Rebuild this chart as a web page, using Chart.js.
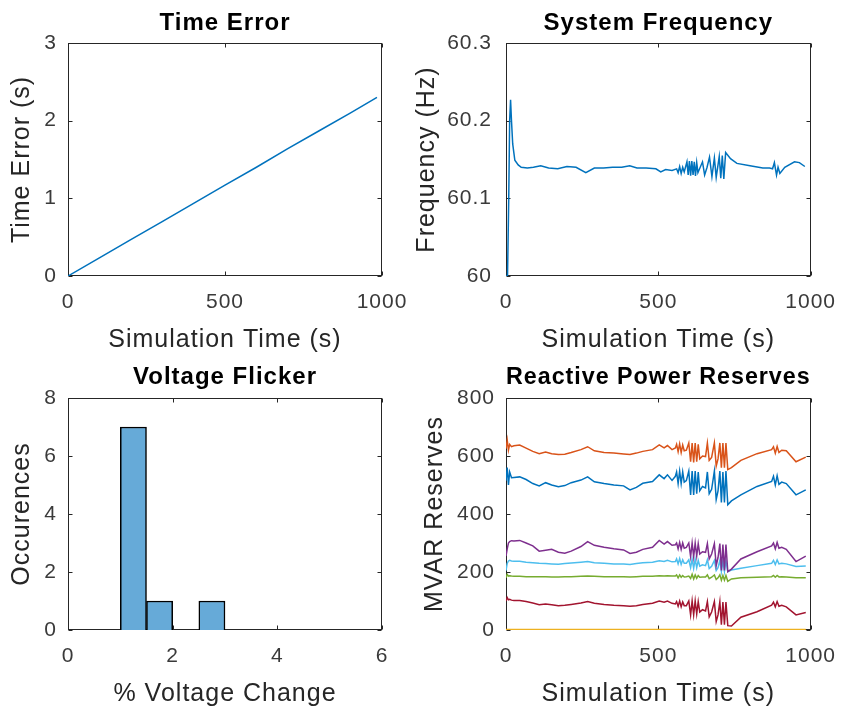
<!DOCTYPE html>
<html><head><meta charset="utf-8">
<script src="https://cdn.jsdelivr.net/npm/chart.js@4/dist/chart.umd.min.js"></script>
<style>
html,body{margin:0;padding:0;background:#fff;}
body{width:848px;height:709px;position:relative;overflow:hidden;}
.c{position:absolute;}
</style></head><body>
<div class="c" style="left:0px;top:0px;width:424px;height:354px"><canvas id="c1"></canvas></div>
<div class="c" style="left:410px;top:0px;width:438px;height:354px"><canvas id="c2"></canvas></div>
<div class="c" style="left:0px;top:354px;width:424px;height:355px"><canvas id="c3"></canvas></div>
<div class="c" style="left:410px;top:354px;width:438px;height:355px"><canvas id="c4"></canvas></div>
<script>
// ---------- DATA ----------
const timeErrT = [0, 100, 200, 300, 400, 500, 600, 700, 800, 900, 984];
const timeErrV = [0, 0.234, 0.468, 0.70, 0.935, 1.17, 1.40, 1.64, 1.87, 2.10, 2.30];

const freqT = [0,5,9,12,15,18,22,29,40,50,
  70,90,114,140,170,200,230,262,290,320,
  350,380,406,430,460,492,508,524,545,560,
  565,570,575,580,585,594,598,602,606,610,
  614,618,622,626,630,645,652,660,668,676,
  684,690,700,705,710,715,721,737,758,801,
  843,865,875,881,888,893,899,915,947,963,
  981];
const freqV = [60.0,60.0,60.1,60.2,60.227,60.2,60.17,60.149,60.143,60.140,
  60.139,60.140,60.142,60.139,60.138,60.141,60.140,60.133,60.139,60.139,
  60.140,60.140,60.142,60.139,60.139,60.138,60.134,60.137,60.136,60.138,
  60.133,60.141,60.132,60.140,60.134,60.147,60.130,60.148,60.129,60.148,
  60.130,60.147,60.129,60.146,60.133,60.147,60.130,60.140,60.153,60.128,
  60.152,60.127,60.154,60.126,60.155,60.125,60.159,60.151,60.145,60.142,
  60.139,60.139,60.138,60.146,60.130,60.140,60.132,60.140,60.147,60.146,
  60.141];

const binEdges = [1, 1.5, 2, 2.5, 3];
const binCounts = [7, 1, 0, 1];

const resT = [0,4,8,12,18,26,45,66,88,109,
  130,150,172,193,214,246,268,290,322,354,
  386,407,428,449,481,503,519,530,545,556,
  560,565,570,575,580,585,592,600,606,611,
  616,621,626,631,636,645,655,661,667,675,
  684,690,696,702,707,712,717,722,728,740,
  771,824,872,878,884,890,896,905,920,952,
  984];
const resBlue = [515,560,500,545,525,526,528,519,505,497,
  508,500,494,498,508,517,528,511,505,500,
  497,483,492,506,512,535,522,535,516,530,
  545,505,548,505,545,510,515,548,466,548,
  466,548,470,545,480,495,490,545,470,485,
  548,450,480,548,440,545,440,548,432,445,
  466,495,512,530,500,532,502,510,505,466,
  483];
const resOrange = [625,655,620,640,632,635,638,627,616,608,
  614,608,605,606,612,622,632,618,612,610,
  607,605,610,616,622,638,628,636,622,628,
  640,615,642,612,638,618,620,645,580,645,
  578,645,580,640,590,600,598,645,585,595,
  645,565,590,645,560,645,560,645,553,560,
  585,608,622,632,610,633,612,620,618,580,
  596];
const yellowT = [0, 500, 984];
const resYellow = [2, 2, 2];
const resPurple = [255,280,300,305,308,307,309,300,290,272,
  275,278,268,265,272,288,305,292,285,280,
  276,264,268,278,285,309,296,305,292,294,
  300,280,302,278,300,282,285,300,253,300,
  253,300,255,298,262,270,268,298,245,262,
  298,222,250,298,205,295,205,295,201,210,
  245,270,290,300,280,302,282,285,278,236,
  255];
const resGreen = [180,192,186,187,186,185,185,184,184,184,
  184,183,183,184,184,185,186,185,184,184,
  184,183,184,185,185,187,186,187,186,186,
  190,180,190,182,188,183,184,186,178,192,
  176,190,178,188,182,183,183,190,177,182,
  190,174,180,190,172,188,172,188,168,176,
  180,182,184,188,182,188,183,184,183,180,
  180];
const resCyan = [205,230,238,240,238,237,237,234,232,230,
  229,228,227,229,231,234,236,232,230,228,
  228,226,229,232,234,239,236,240,235,236,
  245,228,246,226,242,230,230,242,215,244,
  213,244,215,240,220,225,222,242,212,220,
  240,205,215,240,202,238,202,238,201,207,
  213,222,230,240,226,242,228,230,228,219,
  221];
const resRed = [100,112,104,106,103,102,102,98,93,87,
  90,87,84,85,88,93,98,92,88,85,
  84,82,84,88,92,100,96,100,92,90,
  98,82,100,80,97,84,84,100,52,100,
  52,100,55,98,62,70,66,98,45,62,
  98,29,52,98,18,96,18,96,15,14,
  44,63,86,96,80,98,82,85,80,52,
  60];

// ---------- STYLE / LAYOUT ----------
const FONT = '"Liberation Sans", Arial, Helvetica, sans-serif';
const TICK_COLOR = '#3a3a3a';
const LABEL_COLOR = '#262626';

const boxPlugin = {
  id: 'matlabBox',
  beforeDraw(chart) { chart.ctx.letterSpacing = '1px'; },
  beforeDatasetsDraw(chart) {
    const {ctx, chartArea: a, scales} = chart;
    ctx.save();
    ctx.strokeStyle = '#262626';
    ctx.lineWidth = 1;
    const l = Math.round(a.left) + 0.5, r = Math.round(a.right) - 0.5;
    const t = Math.round(a.top) + 0.5, b = Math.round(a.bottom) - 0.5;
    ctx.strokeRect(l, t, r - l, b - t);
    const tl = 4;
    ctx.beginPath();
    scales.x.ticks.forEach(tk => {
      const px = Math.round(scales.x.getPixelForValue(tk.value)) + 0.5;
      ctx.moveTo(px, b); ctx.lineTo(px, b - tl);
      ctx.moveTo(px, t); ctx.lineTo(px, t + tl);
    });
    scales.y.ticks.forEach(tk => {
      const py = Math.round(scales.y.getPixelForValue(tk.value)) + 0.5;
      ctx.moveTo(l, py); ctx.lineTo(l + tl, py);
      ctx.moveTo(r, py); ctx.lineTo(r - tl, py);
    });
    ctx.stroke();
    ctx.restore();
  }
};

function pts(xs, ys) { return xs.map((x, i) => ({x: x, y: ys[i]})); }
function lineDs(xs, ys, color) {
  return {data: pts(xs, ys), borderColor: color, borderWidth: 1.5, pointRadius: 0, fill: false, tension: 0};
}

function makeChart(id, type, g, datasets, t) {
  return new Chart(document.getElementById(id), {
    type: type,
    data: {datasets: datasets},
    options: {
      responsive: true, maintainAspectRatio: false, animation: false, devicePixelRatio: 1,
      layout: {padding: {left: 0, top: 0, bottom: 0, right: g.cx + g.cw - g.R}},
      plugins: {
        legend: {display: false}, tooltip: {enabled: false},
        title: {display: true, text: t.title, fullSize: false, color: '#000',
          font: {family: FONT, size: 24, weight: 'bold', lineHeight: 1},
          padding: {top: g.titlePad, bottom: (g.T - g.cy) - 24 - g.titlePad}}
      },
      scales: {
        x: {type: 'linear', min: t.xmin, max: t.xmax, offset: false,
          ticks: {stepSize: t.xstep, color: TICK_COLOR, autoSkip: false, maxRotation: 0,
            font: {family: FONT, size: 21, lineHeight: 1.2}, padding: 14,
            callback: v => String(v)},
          grid: {display: false, drawTicks: false}, border: {display: false},
          title: {display: true, text: t.xlabel, color: LABEL_COLOR,
            font: {family: FONT, size: 25, lineHeight: 1}, padding: {top: 0, bottom: g.xtPad}},
          afterFit(s) { s.height = g.cy + g.ch - g.B; }
        },
        y: {type: 'linear', min: t.ymin, max: t.ymax,
          ticks: {stepSize: t.ystep, color: TICK_COLOR, autoSkip: false,
            font: {family: FONT, size: 21, lineHeight: 1.2}, padding: g.ytickPad,
            callback: t.yfmt || (v => String(v))},
          grid: {display: false, drawTicks: false}, border: {display: false},
          title: {display: true, text: t.ylabel, color: LABEL_COLOR,
            font: {family: FONT, size: 25, lineHeight: 1}, padding: {top: g.ytPad, bottom: 0}},
          afterFit(s) { s.width = g.L - g.cx; }
        }
      }
    },
    plugins: [boxPlugin]
  });
}

const G1 = {cx: 0, cy: 0, cw: 424, ch: 354, L: 68, T: 43, R: 382, B: 276, titlePad: 11, xtPad: 1.5, ytPad: 9.5, ytickPad: 11};
const G2 = {cx: 410, cy: 0, cw: 438, ch: 354, L: 506, T: 43, R: 819, B: 276, titlePad: 11, xtPad: 1.5, ytPad: 4.5, ytickPad: 14};
const G3 = {cx: 0, cy: 354, cw: 424, ch: 355, L: 68, T: 398, R: 382, B: 630, titlePad: 11, xtPad: 2.5, ytPad: 9.5, ytickPad: 11};
const G4 = {cx: 410, cy: 354, cw: 438, ch: 355, L: 506, T: 398, R: 819, B: 630, titlePad: 11, xtPad: 2.5, ytPad: 12.5, ytickPad: 11};

makeChart('c1', 'line', G1, [lineDs(timeErrT, timeErrV, '#0072BD')],
  {title: 'Time Error', xlabel: 'Simulation Time (s)', ylabel: 'Time Error (s)',
   xmin: 0, xmax: 1000, xstep: 500, ymin: 0, ymax: 3, ystep: 1});

makeChart('c2', 'line', G2, [lineDs(freqT, freqV, '#0072BD')],
  {title: 'System Frequency', xlabel: 'Simulation Time (s)', ylabel: 'Frequency (Hz)',
   xmin: 0, xmax: 1000, xstep: 500, ymin: 60, ymax: 60.3, ystep: 0.1,
   yfmt: v => String(Math.round(v * 10) / 10)});

const histData = binCounts.map((c, i) => ({x: (binEdges[i] + binEdges[i + 1]) / 2, y: c})).filter(p => p.y > 0);
makeChart('c3', 'bar', G3, [{data: histData, backgroundColor: '#66AAD8', borderColor: '#000',
    borderWidth: 1.5, barPercentage: 1, categoryPercentage: 1}],
  {title: 'Voltage Flicker', xlabel: '% Voltage Change', ylabel: 'Occurences',
   xmin: 0, xmax: 6, xstep: 2, ymin: 0, ymax: 8, ystep: 2});

makeChart('c4', 'line', G4, [
    lineDs(resT, resBlue, '#0072BD'),
    lineDs(resT, resOrange, '#D95319'),
    lineDs(yellowT, resYellow, '#EDB120'),
    lineDs(resT, resPurple, '#7E2F8E'),
    lineDs(resT, resGreen, '#77AC30'),
    lineDs(resT, resCyan, '#4DBEEE'),
    lineDs(resT, resRed, '#A2142F')],
  {title: 'Reactive Power Reserves', xlabel: 'Simulation Time (s)', ylabel: 'MVAR Reserves',
   xmin: 0, xmax: 1000, xstep: 500, ymin: 0, ymax: 800, ystep: 200});
</script>
</body></html>
